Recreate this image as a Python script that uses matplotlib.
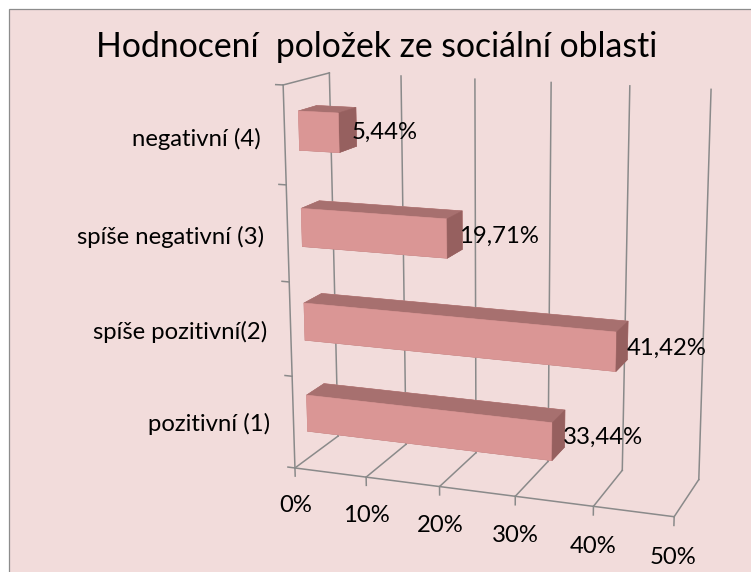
import matplotlib
matplotlib.use("Agg")
import matplotlib.pyplot as plt
from matplotlib.patches import Rectangle
from mpl_toolkits.mplot3d import Axes3D, proj3d  # noqa: F401

# ---------------- data ----------------
title = "Hodnocení  položek ze sociální oblasti"
categories = ["pozitivní (1)", "spíše pozitivní(2)", "spíše negativní (3)", "negativní (4)"]
values = [33.44, 41.42, 19.71, 5.44]
value_labels = ["33,44%", "41,42%", "19,71%", "5,44%"]
x_ticks = [0, 10, 20, 30, 40, 50]
x_tick_labels = ["0%", "10%", "20%", "30%", "40%", "50%"]

# ---------------- style ----------------
W, H, DPI = 751, 572, 100
plt.rcParams['font.family'] = ['Lato', 'DejaVu Sans']
bg = '#F2DCDB'
grid_c = '#8A8A8A'
grid_lw = 1.1
# face colours in bar3d order: -z, +z, -y(front), +y, -x, +x(end)
face_cols = ['#B07877', '#A7706F', '#DA9695', '#DA9695', '#C48584', '#96605F']
label_fs = 17.2
title_fs = 24.3

fig = plt.figure(figsize=(W / DPI, H / DPI), dpi=DPI)
fig.patch.set_facecolor('white')
fig.patches.append(Rectangle((8.5 / W, -0.05), 1.2, (H - 8.5) / H + 0.05,
                             transform=fig.transFigure, facecolor=bg,
                             edgecolor='#8C8C8C', lw=0.9, zorder=-5))

fig.text(0.502, 0.9003, title, ha='center', va='baseline',
         fontsize=title_fs, color='black')

ax = fig.add_axes([0.2764, -0.0024, 0.7451, 0.9783], projection='3d',
                  computed_zorder=False)
ax.set_zorder(1)
ax.set_proj_type('persp', focal_length=0.55)
ax.view_init(elev=14, azim=-70.5, roll=0)
ax.set_box_aspect((0.982, 0.26, 0.97))
ax.set_xlim(0, 50)
ax.set_ylim(0, 1)
ax.set_zlim(0, 4)
ax.set_axis_off()
ax.set_facecolor('none')
ax.patch.set_alpha(0)

n = len(categories)
# walls / floor / axes lines
for t in x_ticks:
    ax.plot([t, t], [1, 1], [0, n], color=grid_c, lw=grid_lw, zorder=1)
    ax.plot([t, t], [0, 1], [0, 0], color=grid_c, lw=grid_lw, zorder=1)
    ax.plot([t, t], [0, 0], [0, -0.09], color=grid_c, lw=grid_lw, zorder=1)
ax.plot([x_ticks[0], x_ticks[-1]], [0, 0], [0, 0], color=grid_c, lw=grid_lw, zorder=1)
ax.plot([0, 0], [0, 0], [0, n], color=grid_c, lw=grid_lw, zorder=1)
ax.plot([0, 0], [0, 1], [n, n], color=grid_c, lw=grid_lw, zorder=1)
for k in range(n + 1):
    ax.plot([0, -1.0], [0, 0], [k, k], color=grid_c, lw=grid_lw, zorder=1)

# bars
bar_y0, bar_depth = 0.3, 0.4
bar_z0, bar_h = 0.3, 0.4
for i, v in enumerate(values):
    ax.bar3d(0, bar_y0, i + bar_z0, v, bar_depth, bar_h, color=face_cols,
             edgecolor=face_cols, linewidth=0.4, shade=False, zorder=3 + i)

# texts: project 3D anchor points with the axes' own projection, then place
# them as ordinary 2D texts in the axes' data coordinates
M = ax.get_proj()


def label(x, y, z, s, **kw):
    x2, y2, _ = proj3d.proj_transform(x, y, z, M)
    ax.text2D(float(x2), float(y2), s, transform=ax.transData,
              fontsize=label_fs, color='black', zorder=10, clip_on=False, **kw)


for i, (v, lab) in enumerate(zip(values, value_labels)):
    label(v + 0.6, 0.5, i + 0.48, lab, ha='left', va='center')

for i, cat in enumerate(categories):
    label(-3.3, 0, i + 0.45, cat, ha='right', va='center')

for t, lab in zip(x_ticks, x_tick_labels):
    label(t, 0, -0.42, lab, ha='center', va='center')

fig.savefig('out.png', dpi=DPI, facecolor=fig.get_facecolor())
